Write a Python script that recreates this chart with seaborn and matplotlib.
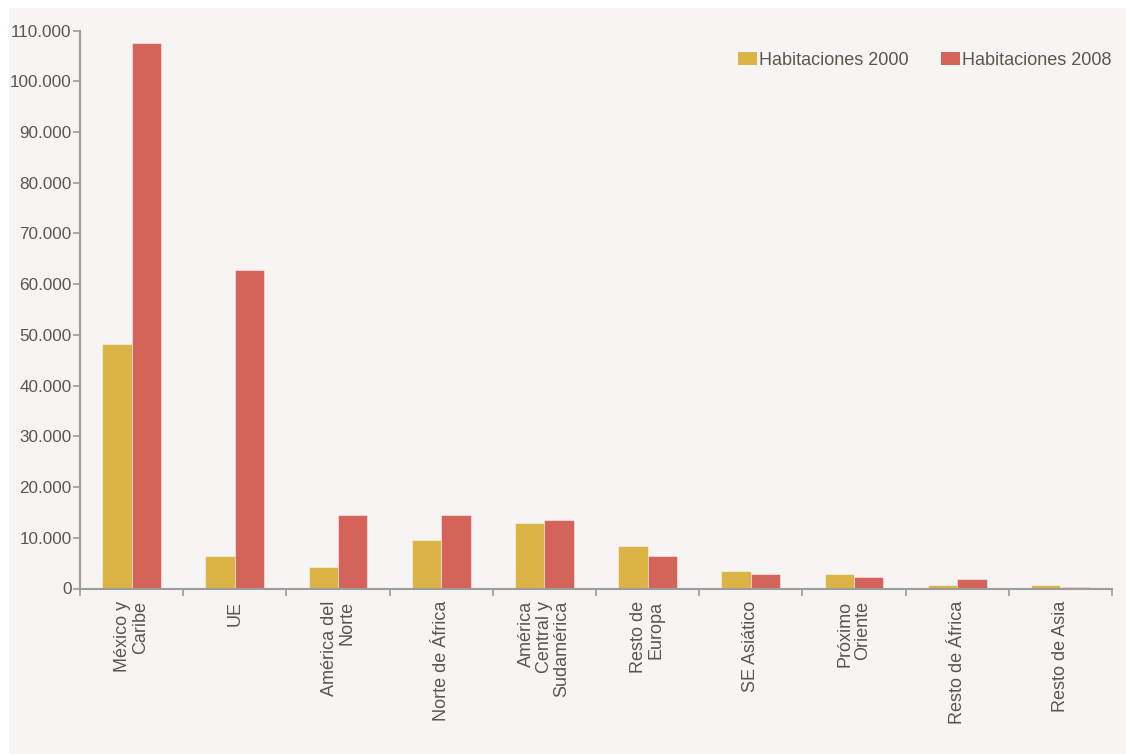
import matplotlib
matplotlib.use("Agg")
import matplotlib.pyplot as plt
from matplotlib.patches import Rectangle
from matplotlib.ticker import FuncFormatter, MultipleLocator, FixedLocator, NullFormatter
import seaborn as sns
import pandas as pd

# Regions and room counts
regiones = [
    "México y\nCaribe", "UE", "América del\nNorte", "Norte de África",
    "América\nCentral y\nSudamérica", "Resto de\nEuropa", "SE Asiático",
    "Próximo\nOriente", "Resto de África", "Resto de Asia",
]
hab_2000 = [48200, 6400, 4300, 9500, 13000, 8400, 3400, 2800, 600, 600]
hab_2008 = [107500, 62800, 14500, 14500, 13600, 6500, 2800, 2200, 1800, 300]
series = ["Habitaciones 2000", "Habitaciones 2008"]
colores = ["#DCB445", "#D4635A"]

df = pd.DataFrame({
    "region": regiones * 2,
    "serie": [series[0]] * len(regiones) + [series[1]] * len(regiones),
    "valor": hab_2000 + hab_2008,
})

sns.set_theme(style="white")
plt.rcParams["font.family"] = ["Liberation Sans", "DejaVu Sans"]

panel = "#F6F5F3"
texto = "#5B5650"
eje = "#9C9C9C"

fig = plt.figure(figsize=(11.26, 7.54), dpi=100, facecolor="white")
fig.patches.append(Rectangle((9 / 1126, 0), 1, 1 - 8 / 754, transform=fig.transFigure,
                             facecolor=panel, edgecolor="none", zorder=-10))
ax = fig.add_axes([80 / 1126, 1 - 588.5 / 754, (1112 - 80) / 1126, (588.5 - 30.5) / 754])
ax.set_facecolor(panel)
ax.set_zorder(1)

sns.barplot(data=df, x="region", y="valor", hue="serie", palette=colores,
            width=0.57, gap=0, dodge=True, ax=ax, edgecolor=(1, 1, 1, 0.45),
            linewidth=0.8, saturation=1)

ax.set_xlim(-0.5, len(regiones) - 0.5)
ax.set_ylim(0, 110000)
ax.yaxis.set_major_locator(MultipleLocator(10000))
ax.yaxis.set_major_formatter(FuncFormatter(lambda v, p: f"{int(v):,}".replace(",", ".")))

# Category boundaries carry the x ticks; labels sit at the centers
ax.xaxis.set_minor_locator(FixedLocator([i - 0.5 for i in range(len(regiones) + 1)]))
ax.xaxis.set_minor_formatter(NullFormatter())
ax.tick_params(axis="x", which="major", length=0, pad=9)
ax.tick_params(axis="x", which="minor", length=5, width=1.2, color=eje, direction="out", bottom=True)
ax.tick_params(axis="y", length=5, width=1.2, color=eje, labelsize=12.3, labelcolor=texto, pad=1, left=True)
ax.set_xticks(range(len(regiones)))
ax.set_xticklabels(regiones, rotation=90, ha="center", va="top", multialignment="right",
                   fontsize=13, color=texto, linespacing=1.05)

for s in ["top", "right"]:
    ax.spines[s].set_visible(False)
for s in ["left", "bottom"]:
    ax.spines[s].set_color(eje)
    ax.spines[s].set_linewidth(1.5)

ax.set_xlabel("")
ax.set_ylabel("")

leg = ax.legend(loc="center right", bbox_to_anchor=(1.0, (588.5 - 60) / 558), ncol=2,
                frameon=False, fontsize=13, handlelength=1.05, handleheight=0.7,
                handletextpad=0.12, columnspacing=1.8, borderaxespad=0, borderpad=0,
                labelcolor=texto)
for h in leg.legend_handles:
    h.set_edgecolor("none")

fig.savefig("out.png", dpi=100, facecolor="white")
